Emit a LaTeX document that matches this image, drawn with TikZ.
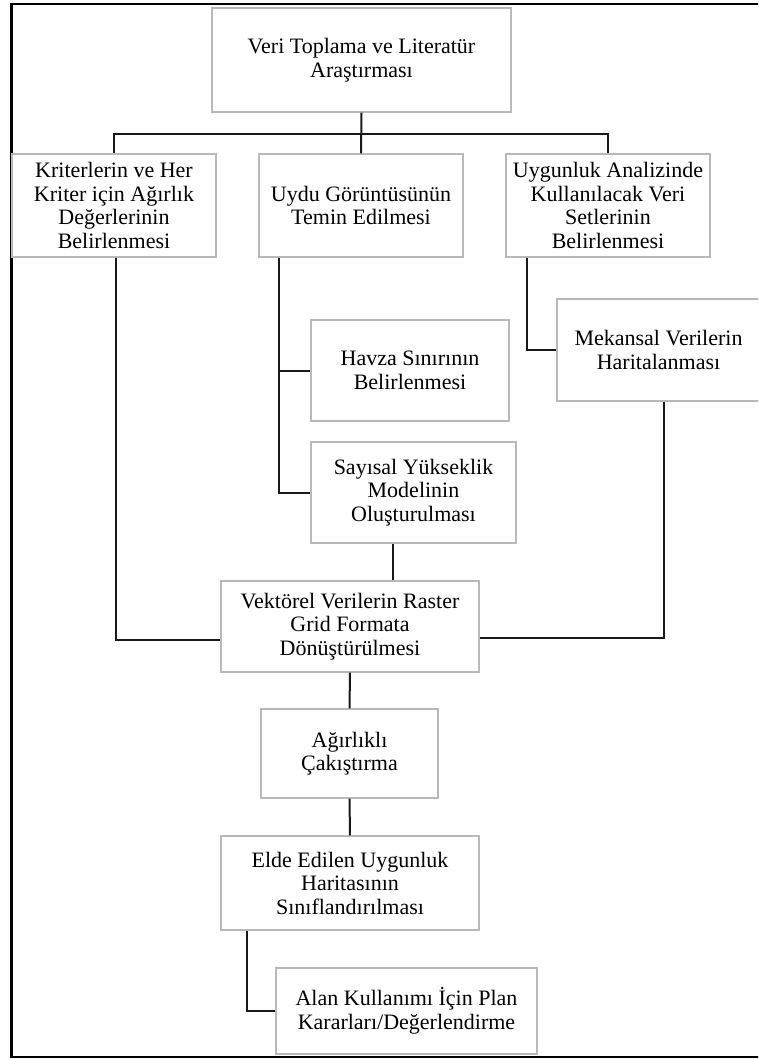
\documentclass[tikz,border=0pt]{standalone}
\usepackage{fontspec}
\setmainfont{Liberation Serif}
\begin{document}
\begin{tikzpicture}[x=1pt,y=-1pt,
  box/.style={draw=boxgray, line width=1.1pt, fill=white, align=center, inner sep=0pt,
    font=\fontsize{22}{23.5}\selectfont, text=black},
  conn/.style={draw=black!90, line width=2pt},
  frame/.style={draw=black, line width=2.8pt}]
\definecolor{boxgray}{RGB}{185,185,185}
\useasboundingbox (0,0) rectangle (758,1059);
\clip (0,0) rectangle (758,1059);
\draw[frame] (820,4) -- (11.5,4) -- (11.5,1057) -- (820,1057);
% boxes: center (x,y), width, height
\node[box, minimum width=299pt, minimum height=104pt] (top) at (361.5,60) {Veri Toplama ve Literatür\\Araştırması};
\node[box, minimum width=204pt, minimum height=103pt] (krit) at (114,205.5) {Kriterlerin ve Her\\Kriter için Ağırlık\\Değerlerinin\\Belirlenmesi};
\node[box, minimum width=204pt, minimum height=103pt] (uydu) at (361,205.5) {Uydu Görüntüsünün\\Temin Edilmesi};
\node[box, minimum width=204pt, minimum height=103pt] (uyg) at (608,205.5) {Uygunluk Analizinde\\Kullanılacak Veri\\Setlerinin\\Belirlenmesi};
\node[box, minimum width=203pt, minimum height=102pt] (mek) at (658.5,350) {Mekansal Verilerin\\Haritalanması};
\node[box, minimum width=198pt, minimum height=101pt] (havza) at (410,370.5) {Havza Sınırının\\Belirlenmesi};
\node[box, minimum width=205pt, minimum height=101pt] (say) at (413.5,492.5) {Sayısal Yükseklik\\Modelinin\\Oluşturulması};
\node[box, minimum width=258pt, minimum height=91pt] (vek) at (350,626.5) {Vektörel Verilerin Raster\\Grid Formata\\Dönüştürülmesi};
\node[box, minimum width=177pt, minimum height=89pt] (agr) at (349.5,753.5) {Ağırlıklı\\Çakıştırma};
\node[box, minimum width=258pt, minimum height=94pt] (elde) at (350,883) {Elde Edilen Uygunluk\\Haritasının\\Sınıflandırılması};
\node[box, minimum width=261pt, minimum height=86pt] (alan) at (406.5,1011) {Alan Kullanımı İçin Plan\\Kararları/Değerlendirme};
% connectors
\coordinate (bus) at (361,134);
\draw[conn] (top.south) -- (uydu.north);
\draw[conn] (krit.north) -- (krit.north |- bus) -- (uyg.north |- bus) -- (uyg.north);
\coordinate (kb) at ([xshift=2pt]krit.south);
\draw[conn] (kb) |- ([yshift=-13.5pt]vek.west);
\coordinate (ub) at ([xshift=-82pt]uydu.south);
\draw[conn] (ub) |- (say.west);
\draw[conn] (ub |- havza.west) -- (havza.west);
\coordinate (gb) at ([xshift=-81pt]uyg.south);
\draw[conn] (gb) |- (mek.west);
\coordinate (sb) at ([xshift=-20.5pt]say.south);
\draw[conn] (sb) -- (sb |- vek.north);
\coordinate (mb) at ([xshift=5.5pt]mek.south);
\draw[conn] (mb) |- ([yshift=-11.5pt]vek.east);
\draw[conn] (vek.south) -- (agr.north);
\draw[conn] (agr.south) -- (elde.north);
\coordinate (eb) at ([xshift=-103pt]elde.south);
\draw[conn] (eb) |- (alan.west);
\end{tikzpicture}
\end{document}
